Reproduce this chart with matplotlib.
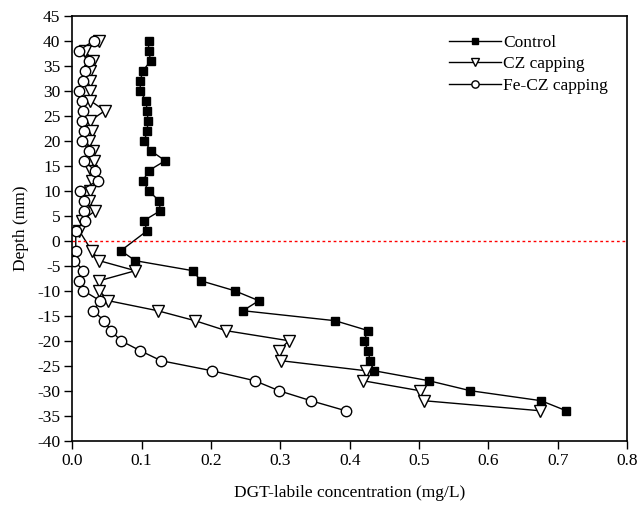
import numpy as np
import matplotlib
matplotlib.use("Agg")
import matplotlib.pyplot as plt

plt.rcParams['font.family'] = ['Liberation Serif', 'DejaVu Serif']
plt.rcParams['axes.unicode_minus'] = False

# Depth profile (mm); no sample at 0 mm
depth = [40, 38, 36, 34, 32, 30, 28, 26, 24, 22, 20, 18, 16, 14, 12, 10, 8, 6, 4, 2,
         -2, -4, -6, -8, -10, -12, -14, -16, -18, -20, -22, -24, -26, -28, -30, -32, -34]

control = [0.110, 0.110, 0.113, 0.102, 0.098, 0.098, 0.106, 0.108, 0.109, 0.108,
           0.104, 0.113, 0.134, 0.110, 0.102, 0.110, 0.125, 0.127, 0.103, 0.108,
           0.070, 0.091, 0.174, 0.185, 0.234, 0.269, 0.246, 0.379, 0.427, 0.420,
           0.427, 0.429, 0.435, 0.514, 0.574, 0.676, 0.712]

cz_capping = [0.038, 0.018, 0.030, 0.025, 0.025, 0.026, 0.026, 0.047, 0.026, 0.029,
              0.024, 0.030, 0.031, 0.027, 0.029, 0.026, 0.024, 0.033, 0.014, 0.010,
              0.028, 0.039, 0.091, 0.039, 0.039, 0.052, 0.123, 0.177, 0.222, 0.312,
              0.298, 0.301, 0.423, 0.419, 0.501, 0.507, 0.674]

fecz_capping = [0.031, 0.009, 0.024, 0.018, 0.016, 0.009, 0.014, 0.016, 0.014, 0.017,
                0.014, 0.024, 0.017, 0.033, 0.037, 0.011, 0.017, 0.017, 0.018, 0.005,
                0.005, 0.003, 0.016, 0.010, 0.016, 0.040, 0.030, 0.046, 0.056, 0.070,
                0.098, 0.128, 0.201, 0.263, 0.298, 0.344, 0.394]

fig = plt.figure(figsize=(6.38, 5.05), dpi=100)
ax = fig.add_axes([0.1133, 0.1273, 0.8697, 0.8416])

ax.plot(control, depth, color='black', lw=1, marker='s', ms=6,
        mfc='black', mec='black', label='Control')
ax.plot(cz_capping, depth, color='black', lw=1, marker='v', ms=8,
        mfc='white', mec='black', mew=1, label='CZ capping')
ax.plot(fecz_capping, depth, color='black', lw=1, marker='o', ms=7.5,
        mfc='white', mec='black', mew=1, label='Fe-CZ capping')

# sediment-water interface
ax.axhline(0, color='red', lw=1, ls=(0, (2, 2)))

ax.set_xlim(0, 0.8)
ax.set_ylim(-40, 45)
ax.set_xticks(np.arange(0, 0.81, 0.1))
ax.set_xticklabels([f"{v:.1f}" for v in np.arange(0, 0.81, 0.1)])
ax.set_yticks(np.arange(-40, 46, 5))
ax.tick_params(direction='out', length=5.5, width=1, labelsize=12.5, pad=3)
for s in ax.spines.values():
    s.set_linewidth(1.2)

ax.set_xlabel('DGT-labile concentration (mg/L)', fontsize=12.5, labelpad=12)
ax.set_ylabel('Depth (mm)', fontsize=12.5, labelpad=6)

ax.legend(loc='upper right', frameon=False, fontsize=12.5, handlelength=3,
          handletextpad=0.1, labelspacing=0.3, borderaxespad=0.7, markerscale=0.7)

fig.savefig('out.png', dpi=100)
